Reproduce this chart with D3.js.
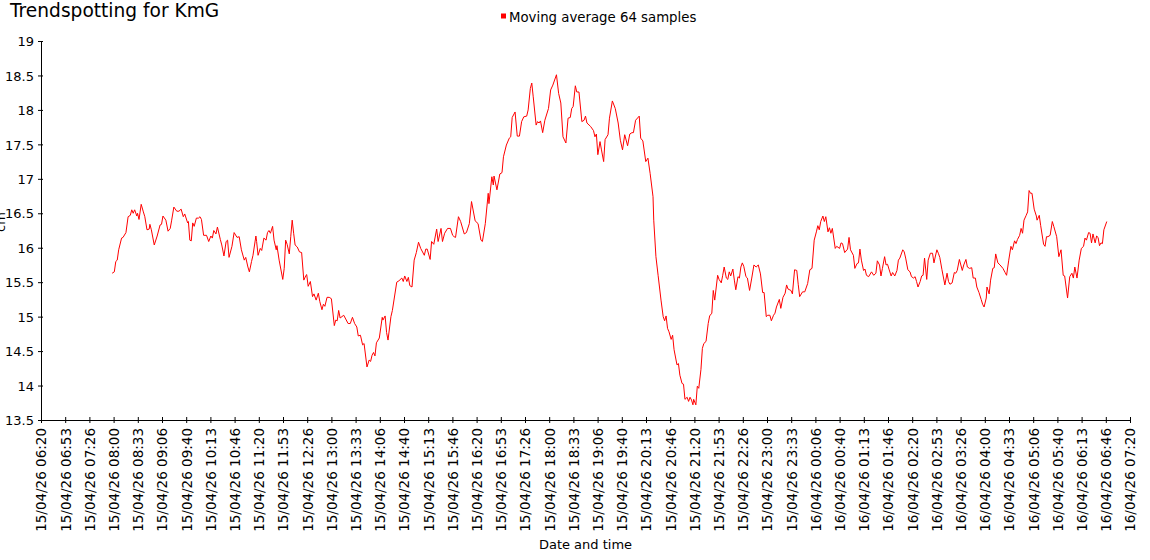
<!DOCTYPE html>
<html><head><meta charset="utf-8">
<script src="https://cdn.jsdelivr.net/npm/d3@7"></script>
<style>
body{margin:0;background:#fff}
svg{display:block;background:#fff}
text{font-family:"DejaVu Sans",Verdana,sans-serif;fill:#000}
</style>
</head><body>
<svg id="chart" width="1150" height="560"></svg>
<script>
const chartTitle = "Trendspotting for KmG";
const seriesName = "Moving average 64 samples";
const xAxisTitle = "Date and time";
const yAxisTitle = "cm";
const startTime = "2026-04-15T06:20:00Z";
const endTime = "2026-04-16T07:20:00Z";
const tickStepSeconds = 2000;
const yTicks = [13.5, 14, 14.5, 15, 15.5, 16, 16.5, 17, 17.5, 18, 18.5, 19];

// minutes after 15/04/26 06:20
const sampleMinutes = [
  98,101,103,105,107,111,113,117,120,123,
  125,127,129,132,133,135,138,141,143,146,
  149,150,152,156,160,164,166,168,172,175,
  178,180,183,187,190,193,196,198,202,203,
  205,207,209,211,214,217,219,221,224,228,
  231,234,236,238,241,243,247,249,252,255,
  257,259,263,266,270,273,276,280,282,285,
  287,290,292,296,297,299,302,304,307,310,
  312,314,316,319,321,324,325,328,333,335,
  337,339,342,344,346,348,350,353,356,359,
  362,365,366,368,371,374,376,379,382,384,
  387,389,391,394,397,400,404,406,408,410,
  412,417,423,426,429,432,435,437,440,443,
  445,449,452,454,456,458,460,462,466,470,
  471,474,476,478,482,484,490,493,497,499,
  501,504,506,508,511,514,517,520,523,528,
  530,532,536,538,541,545,547,551,553,556,
  560,564,567,569,571,575,578,583,586,590,
  593,598,602,606,608,612,616,617,621,623,
  624,628,632,635,637,641,645,647,649,653,
  656,659,662,665,669,671,674,676,678,682,
  684,686,688,691,694,699,702,705,710,713,
  716,719,723,726,729,731,733,736,738,741,
  745,748,750,752,757,761,763,765,767,770,
  772,775,777,781,783,787,791,795,798,801,
  804,808,811,814,816,819,824,826,829,833,
  836,839,843,844,847,850,854,857,859,861,
  863,865,868,870,872,876,878,880,883,885,
  887,890,892,894,896,898,899,902,904,906,
  909,911,913,916,919,921,924,926,928,932,
  934,937,939,941,944,946,948,950,953,955,
  957,960,962,964,966,968,971,973,976,979,
  982,985,988,991,994,996,999,1001,1004,1006,
  1009,1011,1013,1017,1019,1022,1025,1027,1029,1033,
  1035,1038,1041,1043,1045,1049,1052,1056,1059,1062,
  1065,1068,1070,1072,1074,1077,1079,1081,1084,1086,
  1088,1090,1094,1096,1100,1102,1104,1107,1111,1113,
  1115,1119,1121,1124,1126,1128,1130,1133,1135,1137,
  1140,1144,1147,1150,1152,1155,1157,1159,1162,1164,
  1166,1168,1171,1173,1176,1179,1181,1183,1187,1189,
  1191,1194,1197,1199,1202,1204,1206,1208,1211,1213,
  1215,1217,1220,1222,1225,1228,1230,1232,1234,1236,
  1238,1241,1245,1248,1250,1252,1255,1258,1260,1262,
  1265,1267,1269,1271,1274,1276,1279,1282,1284,1287,
  1289,1292,1295,1297,1299,1302,1303,1306,1308,1311,
  1313,1315,1318,1321,1325,1328,1330,1333,1336,1338,
  1341,1343,1345,1348,1350,1352,1354,1357,1359,1361,
  1363,1365,1368,1371,1372,1375,1377,1381,1383,1385,
  1387,1390,1393,1395,1399,1402,1405,1408,1410,1414,
  1417,1420,1422,1424,1427,1430,1433,1436,1438,1440,
  1443,1445,1447,1449,1452,1454,1456,1458,1460,1462,
  1464,1468
];

const movingAverage = [
  15.63,15.65,15.80,15.82,15.97,16.14,16.15,16.22,16.45,16.47,
  16.55,16.50,16.55,16.46,16.50,16.41,16.63,16.52,16.45,16.26,
  16.27,16.34,16.26,16.04,16.17,16.33,16.34,16.46,16.40,16.24,
  16.28,16.40,16.59,16.53,16.53,16.56,16.45,16.49,16.36,16.38,
  16.11,16.10,16.36,16.31,16.43,16.43,16.45,16.41,16.18,16.18,
  16.09,16.17,16.14,16.25,16.20,16.30,16.12,16.04,15.88,16.09,
  16.11,15.86,16.02,16.22,16.15,16.16,15.97,15.82,15.86,15.72,
  15.65,15.80,15.89,16.17,16.09,15.89,15.99,15.96,16.14,16.11,
  16.22,16.25,16.21,16.31,16.11,15.97,16.03,15.82,15.54,15.70,
  16.11,16.05,15.91,16.16,16.40,16.21,16.04,16.01,15.94,15.93,
  15.53,15.60,15.61,15.44,15.51,15.29,15.33,15.24,15.34,15.22,
  15.10,15.18,15.15,15.28,15.28,15.26,14.87,14.95,14.94,15.09,
  14.98,15.02,14.90,14.90,14.99,14.90,14.85,14.72,14.73,14.59,
  14.61,14.27,14.37,14.35,14.44,14.48,14.43,14.62,14.69,14.99,
  14.95,15.01,14.77,14.66,15.00,15.09,15.50,15.52,15.56,15.51,
  15.59,15.51,15.57,15.45,15.43,15.82,15.93,16.08,15.99,15.89,
  15.98,15.98,15.83,16.09,16.05,16.27,16.09,16.28,16.09,16.21,
  16.28,16.28,16.18,16.16,16.15,16.45,16.38,16.20,16.22,16.35,
  16.67,16.39,16.35,16.11,16.09,16.35,16.79,16.64,17.03,16.91,
  17.04,16.84,17.07,17.09,17.32,17.49,17.59,17.61,17.89,17.97,
  17.62,17.62,17.83,17.90,17.91,18.00,18.31,18.39,18.19,17.78,
  17.83,17.81,17.84,17.67,17.85,18.02,18.29,18.36,18.51,18.24,
  18.10,17.61,17.52,17.88,17.89,18.02,18.05,18.35,18.26,18.26,
  17.83,17.85,17.91,17.81,17.76,17.70,17.61,17.65,17.35,17.54,
  17.42,17.25,17.57,17.64,17.88,18.13,18.02,17.81,17.56,17.42,
  17.64,17.48,17.65,17.67,17.67,17.85,17.91,17.59,17.55,17.25,
  17.30,17.08,16.74,16.40,15.87,15.60,15.24,15.00,14.94,15.01,
  14.83,14.78,14.67,14.73,14.52,14.30,14.32,14.15,14.03,14.02,
  13.80,13.83,13.77,13.83,13.79,13.72,13.80,13.72,13.99,13.96,
  14.23,14.54,14.61,14.64,14.90,15.01,15.05,15.38,15.24,15.60,
  15.54,15.49,15.60,15.72,15.56,15.54,15.65,15.59,15.69,15.53,
  15.39,15.58,15.56,15.72,15.78,15.73,15.58,15.56,15.38,15.56,
  15.75,15.72,15.75,15.62,15.35,15.35,15.00,15.02,15.02,14.94,
  15.02,15.05,15.14,15.25,15.12,15.28,15.34,15.46,15.40,15.38,
  15.33,15.68,15.67,15.47,15.29,15.36,15.36,15.48,15.68,15.70,
  16.11,16.23,16.32,16.26,16.38,16.46,16.38,16.45,16.23,16.29,
  16.21,16.28,15.99,16.02,15.99,16.07,16.06,15.93,15.98,16.15,
  15.97,15.89,15.70,15.77,15.78,15.98,15.82,15.67,15.69,15.60,
  15.58,15.65,15.60,15.63,15.81,15.75,15.59,15.70,15.87,15.75,
  15.76,15.69,15.59,15.64,15.59,15.67,15.82,15.85,15.97,15.94,
  15.85,15.68,15.65,15.58,15.56,15.58,15.51,15.43,15.51,15.59,
  15.60,15.85,15.54,15.82,15.92,15.92,15.78,15.88,15.97,15.92,
  15.86,15.68,15.46,15.63,15.51,15.47,15.49,15.64,15.63,15.67,
  15.83,15.75,15.67,15.75,15.83,15.72,15.70,15.71,15.56,15.56,
  15.43,15.35,15.25,15.18,15.14,15.27,15.43,15.33,15.53,15.70,
  15.71,15.91,15.78,15.75,15.70,15.64,15.60,15.82,16.02,15.97,
  16.10,16.06,16.12,16.18,16.28,16.21,16.40,16.47,16.52,16.83,
  16.79,16.79,16.56,16.46,16.40,16.47,16.32,16.05,16.02,16.16,
  16.16,16.18,16.38,16.31,16.16,15.87,15.97,15.60,15.59,15.27,
  15.58,15.63,15.56,15.72,15.56,15.82,15.99,16.02,16.14,16.11,
  16.22,16.21,16.07,16.20,16.07,16.17,16.15,16.03,16.07,16.06,
  16.26,16.38
];

const svg = d3.select("#chart");
const t0 = new Date(startTime), t1 = new Date(endTime);
const plotLeft = 41, plotRight = 1130, plotTop = 41, plotBottom = 420;

const x = d3.scaleUtc().domain([t0, t1]).range([plotLeft, plotRight]);
const y = d3.scaleLinear().domain([13.5, 19]).range([plotBottom, plotTop]);

const xTicks = d3.range(0, (t1 - t0) / 1000 + 1, tickStepSeconds)
  .map(s => new Date(t0.getTime() + s * 1000));
const fmt = d3.utcFormat("%d/%m/%y %H:%M");

const data = sampleMinutes.map((m, i) => ({
  t: new Date(t0.getTime() + m * 60000),
  v: movingAverage[i]
}));

// series line
svg.append("path")
  .datum(data)
  .attr("fill", "none")
  .attr("stroke", "#ff0000")
  .attr("stroke-width", 1)
  .attr("stroke-linejoin", "round")
  .attr("d", d3.line().x(d => x(d.t)).y(d => y(d.v)));

// x axis
const gx = svg.append("g")
  .attr("transform", `translate(0,${plotBottom})`)
  .call(d3.axisBottom(x).tickValues(xTicks).tickFormat(fmt).tickSizeOuter(0).tickSizeInner(6));
gx.selectAll(".tick line").attr("y1", -3).attr("y2", 3).attr("stroke", "#000");
gx.select(".domain").attr("stroke", "#000");
gx.selectAll(".tick text")
  .attr("transform", "rotate(-90)")
  .attr("text-anchor", "end")
  .attr("x", -8)
  .attr("y", 0)
  .attr("dy", "0.36em")
  .style("font-size", "13.5px")
  .style("font-family", '"DejaVu Sans", Verdana, sans-serif');

// y axis
const gy = svg.append("g")
  .attr("transform", `translate(${plotLeft},0)`)
  .call(d3.axisLeft(y).tickValues(yTicks).tickFormat(d3.format("")).tickSizeOuter(0).tickSizeInner(6));
gy.selectAll(".tick line").attr("x1", -3).attr("x2", 2).attr("stroke", "#000");
gy.select(".domain").attr("stroke", "#000");
gy.selectAll(".tick text")
  .attr("x", -7)
  .attr("dy", "0.36em")
  .style("font-size", "13px")
  .style("font-family", '"DejaVu Sans", Verdana, sans-serif');

// title
svg.append("text")
  .attr("x", 10).attr("y", 16.5)
  .style("font-size", "18.6px")
  .text(chartTitle);

// legend
svg.append("rect")
  .attr("x", 501).attr("y", 13.5).attr("width", 5).attr("height", 5)
  .attr("fill", "#ff0000");
svg.append("text")
  .attr("x", 509).attr("y", 21.5)
  .style("font-size", "13.3px")
  .text(seriesName);

// axis titles
svg.append("text")
  .attr("x", (plotLeft + plotRight) / 2).attr("y", 549)
  .attr("text-anchor", "middle")
  .style("font-size", "13px")
  .text(xAxisTitle);
svg.append("text")
  .attr("transform", "translate(5,222) rotate(-90)")
  .attr("text-anchor", "middle")
  .style("font-size", "13px")
  .text(yAxisTitle);
</script>
</body></html>
